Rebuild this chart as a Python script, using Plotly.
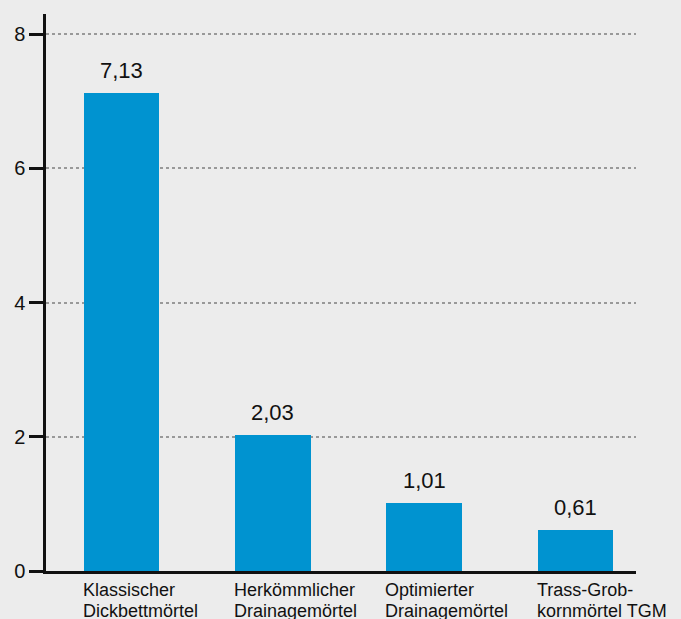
import plotly.graph_objects as go

categories = ["Klassischer<br>Dickbettmörtel", "Herkömmlicher<br>Drainagemörtel",
              "Optimierter<br>Drainagemörtel", "Trass-Grob-<br>kornmörtel TGM"]
values = [7.13, 2.03, 1.01, 0.61]
value_labels = ["7,13", "2,03", "1,01", "0,61"]
y_ticks = [0, 2, 4, 6, 8]

x_idx = list(range(len(categories)))
bar_color = "#0093d0"
bg = "#ececec"
font_family = "Liberation Sans, Arial, Helvetica, sans-serif"

fig = go.Figure()
fig.add_trace(go.Bar(x=x_idx, y=values, width=0.5, marker=dict(color=bar_color, line=dict(width=0)),
                     hoverinfo="skip"))

annotations = []
for i, (v, t) in enumerate(zip(values, value_labels)):
    annotations.append(dict(x=i, y=v, text=t, showarrow=False, xanchor="center", yanchor="bottom",
                            yshift=8, font=dict(size=22, color="#111111", family=font_family)))
for i, c in enumerate(categories):
    for k, line in enumerate(c.split("<br>")):
        annotations.append(dict(x=i - 0.25, y=0, text=line, showarrow=False, xanchor="left",
                                yanchor="top", align="left", xshift=-3, yshift=-7 - 21 * k,
                                font=dict(size=18, color="#111111", family=font_family)))

fig.update_layout(
    width=681, height=619,
    paper_bgcolor=bg, plot_bgcolor=bg,
    margin=dict(l=46, r=45, t=14, b=48),
    showlegend=False,
    bargap=0,
    annotations=annotations,
    font=dict(family=font_family, color="#111111"),
    xaxis=dict(range=[-0.5, 3.4], showticklabels=False, ticks="", showgrid=False, zeroline=False,
               showline=True, linecolor="#111111", linewidth=2.5, fixedrange=True),
    yaxis=dict(range=[0, 8.3], tickvals=y_ticks, ticktext=[str(t) for t in y_ticks],
               ticks="outside", ticklen=14, tickwidth=2.5, tickcolor="#111111",
               tickfont=dict(size=20, color="#111111", family=font_family),
               showline=True, linecolor="#111111", linewidth=2.5,
               showgrid=True, gridcolor="#999999", gridwidth=2, griddash="dot",
               zeroline=False, fixedrange=True),
)

fig.write_html("out.html", config={"displayModeBar": False})

with open("out.html", "r", encoding="utf-8") as f:
    html = f.read()
html = html.replace("<head>", "<head><style>html,body{margin:0;padding:0;overflow:hidden;background:#ececec;}</style>", 1)
with open("out.html", "w", encoding="utf-8") as f:
    f.write(html)
